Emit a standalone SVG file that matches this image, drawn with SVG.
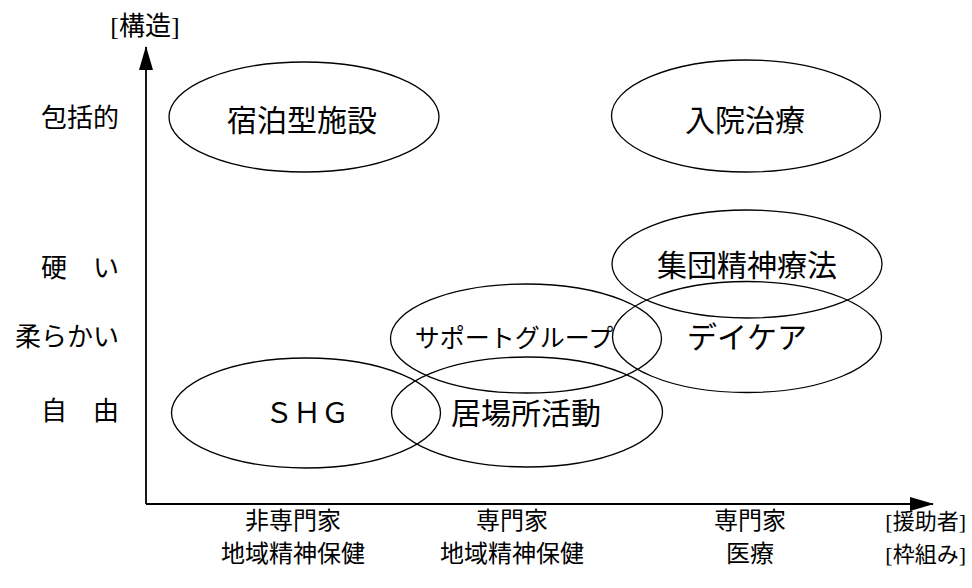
<svg xmlns="http://www.w3.org/2000/svg" width="972" height="588" viewBox="0 0 972 588">
<style>
  .bg{fill:#ffffff}
  .el{fill:none;stroke:#000;stroke-width:1.3}
  .ax{fill:none;stroke:#000;stroke-width:1.8}
  text{font-family:"Liberation Serif","Noto Sans CJK JP",serif;fill:#000;dominant-baseline:central}
  .lbl{font-size:30px;text-anchor:middle}
  .sm{font-size:25px;text-anchor:middle}
  .side{font-size:26px;text-anchor:end}
  .bot{font-size:24px;text-anchor:middle}
  .botr{font-size:22px;text-anchor:end}
</style>
<defs>
  <marker id="arr" viewBox="0 0 24 14" refX="23" refY="7" markerWidth="24" markerHeight="14" markerUnits="userSpaceOnUse" orient="auto">
    <path d="M0,0 L24,7 L0,14 Z" fill="#000"/>
  </marker>
</defs>
<rect class="bg" x="0" y="0" width="972" height="588"/>

<g id="connectors">
  <line class="ax" x1="146" y1="504" x2="146" y2="47" marker-end="url(#arr)"/>
  <line class="ax" x1="146" y1="504" x2="933" y2="504" marker-end="url(#arr)"/>
</g>

<g id="axis-labels">
  <text x="145" y="26" style="font-size:26px;text-anchor:middle">[構造]</text>
  <text class="side" x="119" y="118">包括的</text>
  <text class="side" x="119" y="268">硬　い</text>
  <text class="side" x="119" y="337">柔らかい</text>
  <text class="side" x="119" y="411">自　由</text>
  <text class="bot" x="293" y="521">非専門家</text>
  <text class="bot" x="293" y="554">地域精神保健</text>
  <text class="bot" x="512" y="521">専門家</text>
  <text class="bot" x="512" y="554">地域精神保健</text>
  <text class="bot" x="750" y="521">専門家</text>
  <text class="bot" x="750" y="554">医療</text>
  <text class="botr" x="966" y="521">[援助者]</text>
  <text class="botr" x="966" y="554">[枠組み]</text>
</g>

<g id="node-shukuhaku">
  <ellipse class="el" cx="304" cy="117" rx="135" ry="55"/>
  <text class="lbl" x="302" y="120">宿泊型施設</text>
</g>
<g id="node-nyuin">
  <ellipse class="el" cx="746" cy="116" rx="134.5" ry="56"/>
  <text class="lbl" x="745" y="120">入院治療</text>
</g>
<g id="node-shudan">
  <ellipse class="el" cx="747" cy="264" rx="135" ry="54"/>
  <text class="lbl" x="747" y="265">集団精神療法</text>
</g>
<g id="node-daycare">
  <ellipse class="el" cx="747" cy="337" rx="134.5" ry="55.5"/>
  <text class="lbl" x="747" y="337">デイケア</text>
</g>
<g id="node-support">
  <ellipse class="el" cx="526" cy="338.5" rx="135.5" ry="54.5"/>
  <text class="sm" x="514" y="338">サポートグループ</text>
</g>
<g id="node-shg">
  <ellipse class="el" cx="306" cy="413" rx="134.5" ry="55"/>
  <text class="lbl" x="307" y="413" style="font-size:28px">ＳＨＧ</text>
</g>
<g id="node-ibasho">
  <ellipse class="el" cx="527" cy="412" rx="135.5" ry="55"/>
  <text class="lbl" x="526" y="413">居場所活動</text>
</g>
</svg>
